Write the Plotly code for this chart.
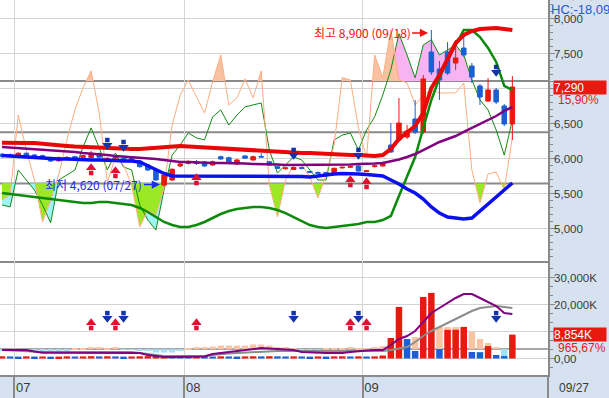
import plotly.graph_objects as go

# ---------------- data ----------------
month_labels = ["07", "08", "09"]
month_bounds = [1.5, 22.5, 44.5]      # gridline between last/first session of months
last_date = "09/27"

opens = [6060, 6055, 6040, 6075, 6050, 6040, 6011, 5968, 6004, 6026,
         6018, 6014, 6071, 5964, 6005, 6002, 6000, 5964, 5907, 5836,
         5621, 5693, 5893, 5929, 5943, 5950, 5907, 6026, 6011, 5921,
         6036, 5979, 6029, 5954, 5883, 5855, 5843, 5870, 5815, 5800,
         5800, 5797, 5865, 5875, 5893, 5815, 5885, 5893, 6193, 6264,
         6307, 6564, 6379, 7521, 7279, 7521, 7364, 7578, 7321, 7036,
         6821, 6979, 6750, 6493]
highs = [6080, 6070, 6090, 6085, 6065, 6055, 6025, 6030, 6036, 6040,
         6055, 6107, 6085, 6020, 6035, 6015, 6010, 5975, 5920, 5850,
         5780, 5860, 5940, 5975, 5979, 5965, 5970, 6040, 6025, 5995,
         6050, 6040, 6078, 5965, 5895, 5880, 5885, 5885, 5820, 5815,
         5805, 5870, 5880, 5900, 5905, 5830, 5910, 5955, 6507, 6864,
         6479, 6836, 7193, 7836, 7393, 7664, 7693, 7764, 7364, 7064,
         7150, 7007, 6779, 7179]
lows = [6010, 6030, 6020, 6015, 6000, 5990, 5950, 5955, 5986, 5980,
        6005, 6000, 6005, 5950, 5990, 5955, 5960, 5870, 5820, 5680,
        5600, 5680, 5880, 5915, 5907, 5880, 5895, 5985, 5935, 5910,
        5995, 5970, 6010, 5895, 5850, 5840, 5835, 5845, 5800, 5775,
        5785, 5785, 5860, 5865, 5810, 5810, 5870, 5885, 6079, 6236,
        6279, 6350, 6350, 7193, 6836, 7193, 7264, 7450, 7078, 6764,
        6807, 6779, 6464, 6264]
closes = [6030, 6045, 6075, 6025, 6011, 6002, 5964, 6011, 6014, 5993,
          6040, 6074, 6018, 6002, 6015, 5968, 5970, 5883, 5836, 5693,
          5764, 5846, 5921, 5957, 5929, 5893, 5954, 5993, 5945, 5979,
          6004, 6026, 6021, 5907, 5860, 5865, 5871, 5860, 5805, 5790,
          5790, 5860, 5875, 5885, 5821, 5825, 5895, 5936, 6093, 6507,
          6393, 6379, 7136, 7236, 7121, 7221, 7436, 7479, 7164, 6879,
          6979, 6807, 6493, 7021]

ma_red = [6226, 6221, 6221, 6221, 6221, 6214, 6207, 6193, 6179, 6171,
          6164, 6157, 6150, 6150, 6143, 6136, 6136, 6136, 6143, 6157,
          6164, 6171, 6179, 6171, 6164, 6150, 6143, 6136, 6129, 6121,
          6121, 6114, 6111, 6107, 6100, 6093, 6086, 6079, 6079, 6071,
          6064, 6064, 6057, 6050, 6050, 6043, 6036, 6050, 6136, 6279,
          6364, 6464, 6650, 7007, 7193, 7436, 7650, 7764, 7821, 7850,
          7864, 7864, 7850, 7836]
ma_purple = [6164, 6157, 6150, 6143, 6136, 6129, 6121, 6114, 6107, 6093,
             6079, 6071, 6064, 6050, 6036, 6029, 6021, 6014, 6007, 5993,
             5979, 5964, 5950, 5950, 5943, 5943, 5936, 5936, 5936, 5929,
             5929, 5921, 5921, 5914, 5914, 5907, 5907, 5907, 5907, 5907,
             5907, 5907, 5907, 5914, 5921, 5921, 5929, 5936, 5957, 5986,
             6021, 6064, 6121, 6179, 6236, 6279, 6321, 6379, 6436, 6493,
             6550, 6607, 6679, 6736]
ma_blue = [6043, 6036, 6029, 6021, 6007, 6000, 6000, 5993, 5993, 5986,
           5979, 5979, 5979, 5979, 5971, 5964, 5964, 5950, 5893, 5836,
           5786, 5750, 5750, 5750, 5750, 5750, 5750, 5750, 5750, 5750,
           5750, 5750, 5750, 5750, 5750, 5750, 5750, 5743, 5736, 5750,
           5771, 5779, 5786, 5786, 5779, 5771, 5764, 5750, 5693, 5636,
           5564, 5507, 5421, 5307, 5221, 5164, 5150, 5136, 5150, 5250,
           5350, 5450, 5550, 5650]
band_green = [5507, 5493, 5479, 5464, 5450, 5436, 5421, 5407, 5393, 5379,
              5364, 5364, 5379, 5379, 5364, 5350, 5336, 5293, 5236, 5164,
              5093, 5050, 5021, 5021, 5050, 5093, 5150, 5207, 5250, 5279,
              5293, 5307, 5307, 5293, 5264, 5221, 5164, 5107, 5050, 5021,
              5007, 5021, 5036, 5050, 5064, 5093, 5093, 5121, 5179, 5464,
              5736, 6021, 6436, 6836, 7150, 7407, 7621, 7836, 7836, 7736,
              7579, 7379, 7036, 6979]

osc_fast = [23.6, 25.6, 56.7, 43.1, 31.4, 15.1, 23.6, 33.4, 47.0, 58.7,
            67.3, 73.9, 57.5, 30.5, 40.4, 37.3, 29.5, 13.1, 19.7, 17.8,
            28.3, 52.8, 64.5, 70.4, 63.8, 57.5, 69.6, 80.1, 60.6, 63.4,
            70.8, 63.4, 73.9, 29.5, 17.0, 31.4, 37.3, 37.3, 32.6, 24.4,
            33.4, 45.1, 71.2, 70.4, 51.7, 40.0, 80.1, 71.2, 89.9, 70.4,
            69.2, 60.6, 64.5, 66.5, 65.3, 65.3, 65.3, 69.2, 35.3, 22.5,
            33.8, 34.5, 27.5, 48.2]
osc_slow = [21.7, 20.9, 35.3, 31.4, 27.5, 21.7, 14.7, 31.4, 33.4, 35.3,
            44.3, 51.7, 43.9, 35.3, 41.9, 36.5, 35.3, 21.7, 15.8, 11.9,
            27.5, 41.1, 45.1, 49.7, 47.8, 47.0, 56.0, 58.7, 52.8, 56.7,
            59.9, 60.6, 61.4, 43.1, 34.1, 37.3, 40.4, 39.2, 35.3, 31.4,
            31.4, 47.0, 48.9, 49.7, 43.1, 50.9, 56.0, 64.5, 74.3, 88.4,
            80.1, 71.2, 84.0, 86.0, 80.1, 82.1, 84.0, 80.1, 70.4, 62.6,
            58.7, 50.9, 41.1, 54.8]
osc_levels = [70, 50, 30]

volume = [820, 760, 700, 790, 730, 760, 690, 720, 800, 740,
          770, 850, 780, 820, 760, 700, 740, 820, 880, 950,
          1020, 900, 800, 760, 820, 780, 740, 800, 760, 720,
          780, 830, 790, 850, 800, 760, 790, 740, 700, 760,
          720, 780, 820, 760, 800, 740, 790, 1100, 7600, 19100,
          7200, 2800, 22800, 24300, 3500, 10600, 10650, 11700, 2400, 2350,
          4600, 1300, 900, 8854]
vol_ma_purple = [3148, 3148, 3148, 3148, 2593, 2148, 2148, 2148, 2148, 2148,
                 2148, 2148, 2148, 2148, 2148, 2148, 2037, 2037, 1296, 926,
                 556, 556, 556, 556, 556, 741, 1667, 2037, 2407, 2778,
                 3148, 3519, 3889, 3704, 3519, 3519, 3148, 2407, 2222, 2037,
                 2037, 2037, 2037, 2407, 2778, 2963, 3148, 3148, 5000, 7222,
                 8333, 10185, 13519, 16852, 18704, 20556, 22407, 23889, 23889, 22407,
                 20926, 19444, 16852, 16481]
vol_ma_gray = [3148, 2963, 2778, 2593, 2407, 2407, 2407, 2407, 2407, 2407,
               2407, 2407, 2407, 2407, 2407, 2407, 2407, 2037, 1667, 1296,
               926, 926, 926, 926, 926, 926, 1296, 1667, 1852, 2037,
               2222, 2407, 2407, 2593, 2778, 2778, 2778, 2778, 2778, 2778,
               2778, 2778, 2778, 2778, 2778, 2778, 2778, 2778, 3148, 3704,
               4259, 6111, 8333, 10185, 11667, 13148, 14630, 16111, 17593, 18704,
               19074, 19444, 19074, 18704]
vol_osc = [-370, -370, -370, -370, -556, -556, -556, -556, -556, 185,
           185, 741, 741, 185, 741, -185, -185, -370, -741, -1296,
           -1296, -1296, -741, 185, 741, 741, 926, 1296, 1296, 1296,
           1296, 1667, 1667, 1296, 741, 741, 185, -556, -556, -185,
           185, 185, 185, 741, 185, 370, 741, 1111, 1852, 3704,
           2963, 4444, 6667, 7037, 8148, 8148, 8148, 7778, 6296, 3704,
           2222, 741, -2593, 1481]
VOSC_BASE = 3500

buy_idx = [11, 14, 24, 43, 45]
buy_price = [5836, 5793, 5693, 5664, 5636]
sell_idx = [13, 15, 36, 44, 61]
sell_price = [6221, 6193, 6079, 6079, 7264]
buy_vol_level = 12400
sell_vol_level = 15700

hi_text = "최고 8,900 (09/18)"
lo_text = "최저 4,620 (07/27)"
last_price_text = "7,290"
last_change_text = "15,90%"
last_vol_text = "8,854K"
vol_ratio_text = "965,67%"
hc_text = "HC:-18,09"
lc_text = "23,01,16"

price_ticks = [5000, 5500, 6000, 6500, 7000, 7500, 8000]
vol_ticks = [0, 10000, 20000, 30000]
vol_tick_text = ["0,00", "10,000K", "20,000K", "30,000K"]

# ---------------- layout constants ----------------
W, H = 609, 398
PLOT_W, PLOT_H = 548, 375
PRICE_PX = 261
X_RANGE = [-0.25, 67.4]
Y_PRICE = [4535.7, 8264.3]
Y_OSC = [-0.14, 101.5]
Y_VOL = [-6111, 36111]
split = 1 - PRICE_PX / PLOT_H

RED = "#e8190e"
BLUE_C = "#1c5fd4"
GRAY = "#8a8a8a"
GRID = "#d4d4d4"
BG = "#d7e2f0"
TXT = "#3a3a3a"
FONT = "Liberation Sans"

N = len(closes)
xs = list(range(N))

fig = go.Figure()


def clip_series(vals, level, above):
    cx, cy = [], []
    for i, v in enumerate(vals):
        if i > 0:
            p = vals[i - 1]
            if (p - level) * (v - level) < 0:
                t = (level - p) / (v - p)
                cx.append(i - 1 + t)
                cy.append(level)
        cx.append(i)
        cy.append(max(v, level) if above else min(v, level))
    return cx, cy


def add_fill(vals, level, above, color):
    cx, cy = clip_series(vals, level, above)
    fig.add_trace(go.Scatter(x=[cx[0], cx[-1]], y=[level, level], mode="lines",
                             line=dict(width=0, color=color), xaxis="x", yaxis="y",
                             hoverinfo="skip", showlegend=False))
    fig.add_trace(go.Scatter(x=cx, y=cy, mode="lines", line=dict(width=0, color=color),
                             fill="tonexty", fillcolor=color, xaxis="x", yaxis="y",
                             hoverinfo="skip", showlegend=False))


# oscillator fills (base axis, drawn below price layer)
add_fill(osc_slow, osc_levels[0], True, "#f7b3f2")
add_fill(osc_slow, osc_levels[2], False, "#9ef3f7")
add_fill(osc_fast, osc_levels[0], True, "#f8c2a2")
add_fill(osc_fast, osc_levels[2], False, "#9be824")

fig.add_trace(go.Scatter(x=xs, y=osc_slow, mode="lines", line=dict(color="#138a13", width=1),
                         xaxis="x", yaxis="y", showlegend=False))
fig.add_trace(go.Scatter(x=xs, y=osc_fast, mode="lines", line=dict(color="#ffad80", width=1),
                         xaxis="x", yaxis="y", showlegend=False))

# price overlays
fig.add_trace(go.Scatter(x=xs, y=band_green, mode="lines", line=dict(color="#0b8a0b", width=2.5),
                         xaxis="x", yaxis="y2", showlegend=False))
fig.add_trace(go.Scatter(x=xs, y=ma_blue, mode="lines", line=dict(color="#0a10f0", width=3.5),
                         xaxis="x", yaxis="y2", showlegend=False))
fig.add_trace(go.Scatter(x=xs, y=ma_purple, mode="lines", line=dict(color="#800080", width=2.5),
                         xaxis="x", yaxis="y2", showlegend=False))
fig.add_trace(go.Scatter(x=xs, y=ma_red, mode="lines", line=dict(color="#e80808", width=4),
                         xaxis="x", yaxis="y2", showlegend=False))

fig.add_trace(go.Candlestick(x=xs, open=opens, high=highs, low=lows, close=closes,
                             increasing=dict(line=dict(color=RED, width=1), fillcolor=RED),
                             decreasing=dict(line=dict(color=BLUE_C, width=1), fillcolor=BLUE_C),
                             whiskerwidth=0, xaxis="x", yaxis="y2", showlegend=False))

# signal arrows
ppx_p = (Y_PRICE[1] - Y_PRICE[0]) / PRICE_PX
ppx_v = (Y_VOL[1] - Y_VOL[0]) / (PLOT_H - PRICE_PX)


def add_arrows(idx, levels, up, yaxis, ppx, xaxis):
    color = "#e0102e" if up else "#1234a8"
    sgn = 1 if up else -1
    fig.add_trace(go.Scatter(x=idx, y=[v + sgn * 2.2 * ppx for v in levels], mode="markers",
                             marker=dict(symbol="triangle-up" if up else "triangle-down",
                                         size=9, color=color, line=dict(width=0)),
                             xaxis=xaxis, yaxis=yaxis, showlegend=False))
    fig.add_trace(go.Scatter(x=idx, y=[v - sgn * 3.0 * ppx for v in levels], mode="markers",
                             marker=dict(symbol="square", size=4.5, color=color, line=dict(width=0)),
                             xaxis=xaxis, yaxis=yaxis, showlegend=False))


add_arrows(buy_idx, buy_price, True, "y2", ppx_p, "x")
add_arrows(sell_idx, sell_price, False, "y2", ppx_p, "x")

# volume panel
osc_cols = ["#f8c4a4" if v >= 0 else "#a6def4" for v in vol_osc]
fig.add_trace(go.Bar(x=xs, y=vol_osc, base=VOSC_BASE, width=0.8, marker=dict(color=osc_cols, line=dict(width=0)),
                     xaxis="x2", yaxis="y3", showlegend=False))
vol_cols = [RED if (i == 0 or volume[i] > volume[i - 1]) else BLUE_C for i in range(N)]
fig.add_trace(go.Bar(x=xs, y=volume, width=0.8, marker=dict(color=vol_cols, line=dict(width=0)),
                     xaxis="x2", yaxis="y3", showlegend=False))
fig.add_trace(go.Scatter(x=xs, y=vol_ma_gray, mode="lines", line=dict(color="#8c8c8c", width=2),
                         xaxis="x2", yaxis="y3", showlegend=False))
fig.add_trace(go.Scatter(x=xs, y=vol_ma_purple, mode="lines", line=dict(color="#800080", width=2),
                         xaxis="x2", yaxis="y3", showlegend=False))
add_arrows(buy_idx, [buy_vol_level] * len(buy_idx), True, "y3", ppx_v, "x2")
add_arrows(sell_idx, [sell_vol_level] * len(sell_idx), False, "y3", ppx_v, "x2")

# level lines
shapes = []
for lv in osc_levels:
    shapes.append(dict(type="line", xref="paper", x0=0, x1=1, yref="y", y0=lv, y1=lv,
                       line=dict(color=GRAY, width=2), layer="below"))
shapes.append(dict(type="line", xref="paper", x0=0, x1=1, yref="y3", y0=VOSC_BASE, y1=VOSC_BASE,
                   line=dict(color=GRAY, width=1.5), layer="below"))
shapes.append(dict(type="line", xref="paper", x0=1, x1=1, yref="paper", y0=0, y1=-23 / PLOT_H,
                   line=dict(color=GRAY, width=2)))

annotations = []
hi_i = max(range(N), key=lambda i: highs[i])
lo_i = min(range(N), key=lambda i: lows[i])
annotations.append(dict(x=hi_i - 0.4, y=highs[hi_i] - 3 * ppx_p, xref="x", yref="y2", text=hi_text,
                        showarrow=True, arrowhead=2, arrowsize=1.1, arrowwidth=1.5, arrowcolor="#f01010",
                        ax=-66, ay=0, standoff=0,
                        font=dict(family="Noto Sans CJK KR", size=12, color="#f01010")))
annotations.append(dict(x=lo_i - 0.5, y=lows[lo_i] + 2 * ppx_p, xref="x", yref="y2", text=lo_text,
                        showarrow=True, arrowhead=2, arrowsize=1.1, arrowwidth=1.5, arrowcolor="#1a2cf0",
                        ax=-66, ay=0, standoff=0,
                        font=dict(family="Noto Sans CJK KR", size=12, color="#1a2cf0")))


def px_x(X):
    return X / PLOT_W


def px_y(Y):
    return 1 - Y / PLOT_H


annotations.append(dict(x=px_x(553), y=closes[-1], xref="paper", yref="y2", text=last_price_text,
                        showarrow=False, xanchor="left", yanchor="middle", align="left",
                        width=52, height=13, bgcolor=RED, borderpad=0,
                        font=dict(family=FONT, size=12, color="white")))
annotations.append(dict(x=px_x(556), y=px_y(100), xref="paper", yref="paper", text=last_change_text,
                        showarrow=False, xanchor="left", yanchor="middle",
                        font=dict(family=FONT, size=12, color="#e8190e")))
annotations.append(dict(x=px_x(553), y=volume[-1], xref="paper", yref="y3", text=last_vol_text,
                        showarrow=False, xanchor="left", yanchor="middle", align="left",
                        width=52, height=13, bgcolor=RED, borderpad=0,
                        font=dict(family=FONT, size=12, color="white")))
annotations.append(dict(x=px_x(556), y=px_y(348), xref="paper", yref="paper", text=vol_ratio_text,
                        showarrow=False, xanchor="left", yanchor="middle",
                        font=dict(family=FONT, size=12, color="#e8190e")))
annotations.append(dict(x=px_x(549), y=px_y(10), xref="paper", yref="paper", text=hc_text,
                        showarrow=False, xanchor="left", yanchor="middle",
                        font=dict(family=FONT, size=13, color="#1d5ad8")))
annotations.append(dict(x=px_x(555), y=px_y(-5), xref="paper", yref="paper", text=lc_text,
                        showarrow=False, xanchor="left", yanchor="middle",
                        font=dict(family=FONT, size=13, color="#e8190e")))
annotations.append(dict(x=px_x(557), y=px_y(388), xref="paper", yref="paper", text=last_date,
                        showarrow=False, xanchor="left", yanchor="middle",
                        font=dict(family=FONT, size=12, color=TXT)))

fig.update_layout(
    width=W, height=H,
    margin=dict(l=0, r=W - PLOT_W, t=0, b=H - PLOT_H),
    paper_bgcolor=BG, plot_bgcolor="white",
    showlegend=False, barmode="overlay", boxgap=0.2, hovermode=False,
    xaxis=dict(domain=[0, 1], anchor="y", range=X_RANGE, showticklabels=False,
               tickvals=month_bounds, ticks="", showgrid=True, gridcolor=GRID, gridwidth=1,
               showline=True, linecolor=GRAY, linewidth=2, zeroline=False,
               rangeslider=dict(visible=False)),
    yaxis=dict(domain=[split, 1], anchor="x", range=Y_OSC, showticklabels=False,
               showgrid=False, zeroline=False, ticks=""),
    yaxis2=dict(overlaying="y", side="right", anchor="x", range=Y_PRICE,
                tickvals=price_ticks, ticktext=[f"{v:,}" for v in price_ticks],
                ticks="outside", ticklen=5, tickcolor=GRAY, ticklabelstandoff=-3,
                tickfont=dict(family=FONT, size=11.5, color=TXT),
                showgrid=True, gridcolor=GRID, zeroline=False,
                showline=True, linecolor=GRAY, linewidth=1.5,
                minor=dict(ticks="outside", ticklen=3, dtick=100, tickcolor=GRAY, showgrid=False)),
    xaxis2=dict(domain=[0, 1], anchor="y3", matches="x", range=X_RANGE,
                tickvals=month_bounds, ticktext=month_labels,
                ticks="outside", ticklen=23, tickcolor=GRAY, tickwidth=1.5,
                ticklabelshift=9, ticklabelstandoff=-24,
                tickfont=dict(family=FONT, size=13, color=TXT),
                showgrid=True, gridcolor=GRID, showline=True, linecolor=GRAY, linewidth=2,
                zeroline=False),
    yaxis3=dict(domain=[0, split], anchor="x2", side="right", range=Y_VOL,
                tickvals=vol_ticks, ticktext=vol_tick_text,
                ticks="outside", ticklen=5, tickcolor=GRAY, ticklabelstandoff=-3,
                tickfont=dict(family=FONT, size=11.5, color=TXT),
                showgrid=True, gridcolor=GRID, zeroline=False,
                showline=True, linecolor=GRAY, linewidth=1.5,
                minor=dict(ticks="outside", ticklen=3, dtick=10000 / 3, tickcolor=GRAY, showgrid=False)),
    shapes=shapes,
    annotations=annotations,
)

fig.write_html("out.html", config={"displayModeBar": False},
               post_script="document.body.style.margin='0px';document.body.style.overflow='hidden';")
